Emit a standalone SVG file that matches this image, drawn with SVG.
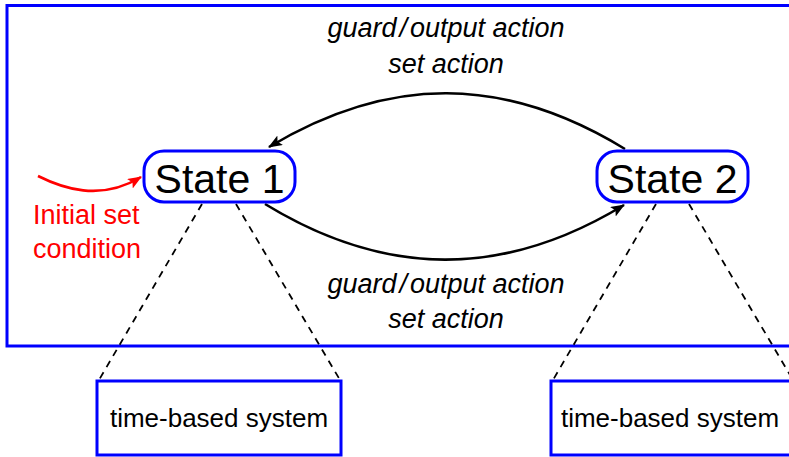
<svg xmlns="http://www.w3.org/2000/svg" width="789" height="457" viewBox="0 0 789 457">
<style>
.blue{fill:none;stroke:#0000ff;stroke-width:3}
.state{fill:#ffffff;stroke:#0000ff;stroke-width:3}
.st{font-family:"Liberation Sans",Arial,sans-serif;font-size:41px;fill:#000;text-anchor:middle}
.sys{font-family:"Liberation Sans",Arial,sans-serif;font-size:26px;fill:#000;text-anchor:middle}
.lbl{font-family:"Liberation Sans",Arial,sans-serif;font-style:italic;font-size:27px;fill:#000;text-anchor:middle}
.red{font-family:"Liberation Sans",Arial,sans-serif;font-size:27px;fill:#ff0000}
.edge{fill:none;stroke:#000;stroke-width:2.6}
.dash{fill:none;stroke:#000;stroke-width:1.8;stroke-dasharray:7 6}
</style>
<defs>
<marker id="ah" viewBox="0 0 14 11" refX="13" refY="5.5" markerWidth="14" markerHeight="11" markerUnits="userSpaceOnUse" orient="auto">
<path d="M0,0 L14,5.5 L0,11 L3,5.5 Z" fill="#000"/>
</marker>
<marker id="ahr" viewBox="0 0 14 11" refX="13" refY="5.5" markerWidth="14" markerHeight="11" markerUnits="userSpaceOnUse" orient="auto">
<path d="M0,0 L14,5.5 L0,11 L3,5.5 Z" fill="#ff0000"/>
</marker>
</defs>
<rect class="blue" x="7" y="5.5" width="800" height="340.5"/>
<g id="connectors">
<path class="edge" d="M625,149 C504,75 389,75 269,147" marker-end="url(#ah)"/>
<path class="edge" d="M265,204 C386,278 504,278 624,205" marker-end="url(#ah)"/>
<path d="M38,176 C62,188 100,202 141,177" fill="none" stroke="#ff0000" stroke-width="2.6" marker-end="url(#ahr)"/>
<path class="dash" d="M202,204 L99,380"/>
<path class="dash" d="M236,204 L340,380"/>
<path class="dash" d="M656,204 L553,380"/>
<path class="dash" d="M689,204 L793,380"/>
</g>
<g id="labels">
<text class="lbl" x="446" y="37">guard<tspan dx="3">/</tspan><tspan dx="3">output action</tspan></text>
<text class="lbl" x="446" y="73">set action</text>
<text class="lbl" x="446" y="293">guard<tspan dx="3">/</tspan><tspan dx="3">output action</tspan></text>
<text class="lbl" x="446" y="328">set action</text>
<text class="red" x="33" y="224">Initial set</text>
<text class="red" x="33" y="258">condition</text>
</g>
<g id="state1">
<rect class="state" x="144" y="151" width="151" height="51" rx="20"/>
<text class="st" x="219.5" y="193">State 1</text>
</g>
<g id="state2">
<rect class="state" x="597" y="151" width="151" height="51" rx="20"/>
<text class="st" x="672.5" y="193">State 2</text>
</g>
<g id="system1">
<rect class="blue" x="97" y="381" width="244" height="74"/>
<text class="sys" x="219" y="427">time-based system</text>
</g>
<g id="system2">
<rect class="blue" x="551" y="381" width="260" height="74"/>
<text class="sys" x="670" y="427">time-based system</text>
</g>
</svg>
